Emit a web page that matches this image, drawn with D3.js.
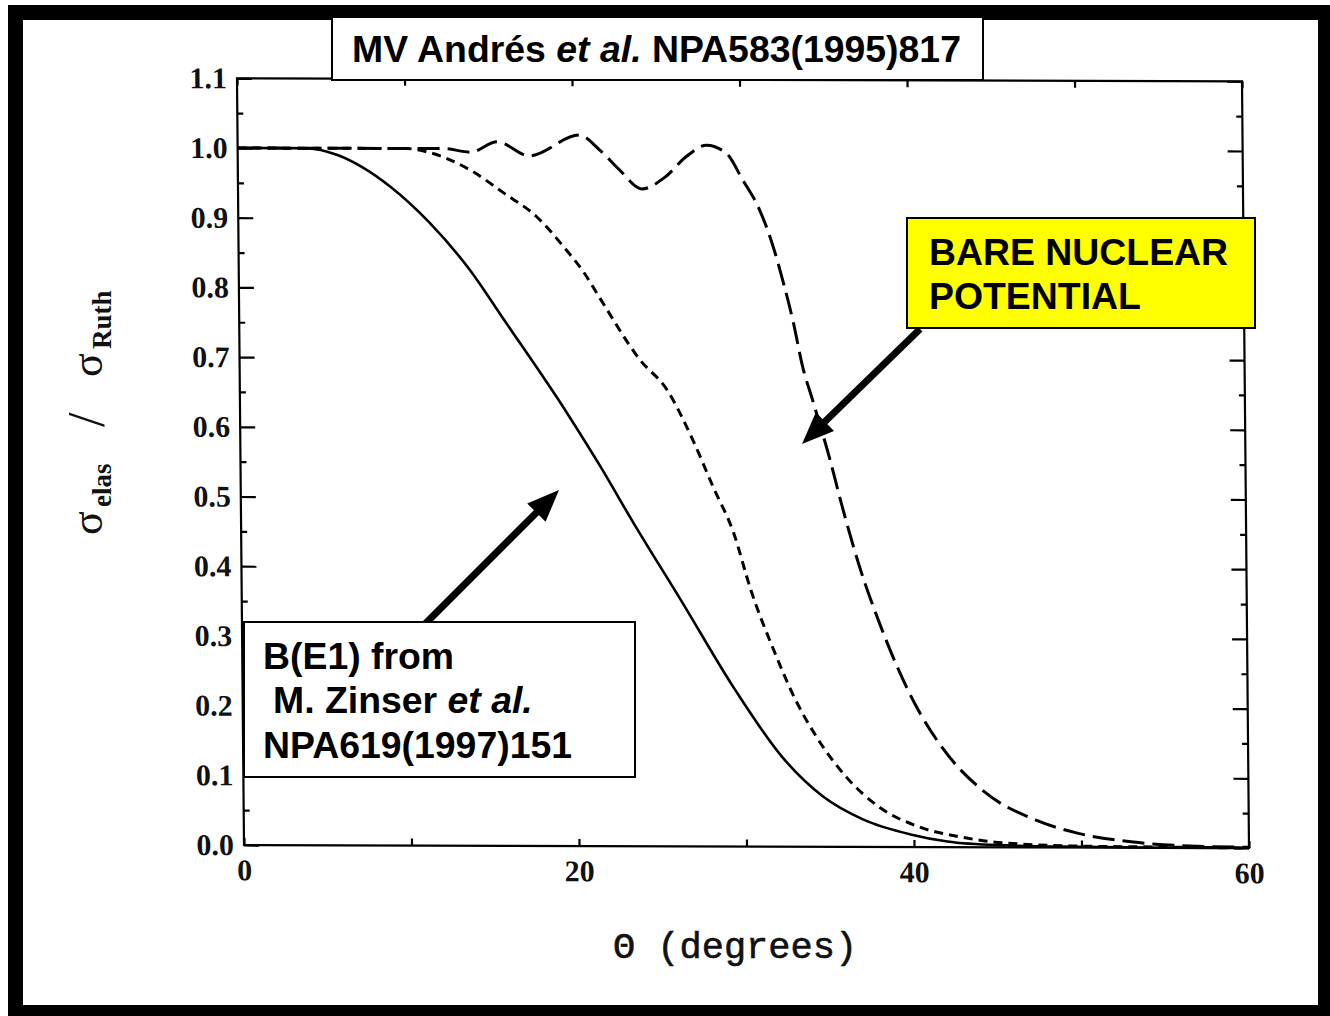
<!DOCTYPE html>
<html>
<head>
<meta charset="utf-8">
<script src="https://cdn.jsdelivr.net/npm/d3@7"></script>
<style>
  html, body { margin: 0; padding: 0; background: #fff; }
  svg { display: block; }
</style>
</head>
<body>
<svg id="chart" width="1330" height="1016"></svg>
<script>
// Elastic cross section relative to Rutherford vs. scattering angle
const thetaSolid = [0, 2, 4, 6, 7.5, 9.1, 11.4, 13.8, 15.8, 19.5, 21.5, 23.4, 26.2, 29.4, 32.2, 34.6, 37.0, 39.8, 42, 45, 50, 55, 60];
const ratioSolid = [1, 1, 1, 0.99, 0.972, 0.945, 0.894, 0.826, 0.755, 0.622, 0.544, 0.465, 0.354, 0.225, 0.128, 0.072, 0.039, 0.018, 0.008, 0.003, 0.001, 0, 0];

const thetaShort = [0, 5, 10, 11.5, 13.9, 15.9, 17.8, 19.4, 20.6, 21.6, 23.9, 25.5, 27.0, 28.2, 29.4, 30.4, 31.8, 33.0, 34.1, 36.0, 37.9, 40.3, 42.7, 45, 50, 55, 60];
const ratioShort = [1, 1, 1, 0.994, 0.969, 0.936, 0.903, 0.86, 0.823, 0.784, 0.698, 0.655, 0.584, 0.516, 0.45, 0.368, 0.278, 0.211, 0.163, 0.1, 0.058, 0.029, 0.015, 0.007, 0.002, 0.001, 0];

const thetaLong = [0, 5, 10, 12.3, 13.9, 15.5, 17.4, 20.4, 21.6, 22.8, 24.1, 25.5, 26.8, 28.0, 29.2, 30.1, 31.1, 31.8, 32.5, 33.1, 33.6, 34.2, 35.2, 35.9, 36.9, 38.0, 40.1, 41.7, 44.1, 47.3, 49.7, 53.1, 56, 60];
const ratioLong = [1, 1, 1, 1.0, 0.995, 1.01, 0.99, 1.02, 0.999, 0.97, 0.943, 0.96, 0.99, 1.006, 0.994, 0.958, 0.915, 0.87, 0.81, 0.75, 0.69, 0.64, 0.555, 0.488, 0.402, 0.325, 0.207, 0.144, 0.082, 0.039, 0.021, 0.008, 0.003, 0.001];

const yMajorTicks = [0, 0.1, 0.2, 0.3, 0.4, 0.5, 0.6, 0.7, 0.8, 0.9, 1.0, 1.1];
const yMinorTicks = [0.05, 0.15, 0.25, 0.35, 0.45, 0.55, 0.65, 0.75, 0.85, 0.95, 1.05];
const xTicks = [0, 10, 20, 30, 40, 50, 60];
const xLabelTicks = [0, 20, 40, 60];

const svg = d3.select("#chart");

// outer black frame
svg.append("rect").attr("x", 8).attr("y", 5).attr("width", 1330).attr("height", 1020).attr("fill", "#000");
svg.append("rect").attr("x", 23).attr("y", 20).attr("width", 1295).attr("height", 985).attr("fill", "#fff");

const plotLeft = 244, plotRight = 1249, plotBottom = 845, plotTop = 78.3;
const x = d3.scaleLinear().domain([0, 60]).range([plotLeft, plotRight]);
const y = d3.scaleLinear().domain([0, 1.1]).range([plotBottom, plotTop]);

// slightly skewed plotting frame
const plot = svg.append("g")
  .attr("transform", `matrix(1,0.003,0.00914,1,${-0.00914 * plotBottom},${-0.003 * plotLeft})`);

const tickFont = "'Liberation Serif', 'DejaVu Serif', serif";

// left axis: labelled major ticks + minor ticks, pointing inward
plot.append("g").attr("transform", `translate(${plotLeft},0)`)
  .call(d3.axisLeft(y).tickValues(yMajorTicks).tickSizeInner(-15).tickSizeOuter(0).tickPadding(10)
    .tickFormat(d3.format(".1f")));
plot.append("g").attr("transform", `translate(${plotLeft},0)`)
  .call(d3.axisLeft(y).tickValues(yMinorTicks).tickSizeInner(-6).tickSizeOuter(0).tickFormat(""));

// right axis
plot.append("g").attr("transform", `translate(${plotRight},0)`)
  .call(d3.axisRight(y).tickValues(yMajorTicks).tickSizeInner(-15).tickSizeOuter(0).tickFormat(""));
plot.append("g").attr("transform", `translate(${plotRight},0)`)
  .call(d3.axisRight(y).tickValues(yMinorTicks).tickSizeInner(-6).tickSizeOuter(0).tickFormat(""));

// bottom and top axes
plot.append("g").attr("transform", `translate(0,${plotBottom})`)
  .call(d3.axisBottom(x).tickValues(xTicks).tickSizeInner(-7).tickSizeOuter(0).tickPadding(14)
    .tickFormat(d => xLabelTicks.includes(d) ? d : ""));
plot.append("g").attr("transform", `translate(0,${plotTop})`)
  .call(d3.axisTop(x).tickValues(xTicks).tickSizeInner(-7).tickSizeOuter(0).tickFormat(""));

plot.selectAll(".domain").remove();
plot.selectAll(".tick line").attr("stroke", "#000").attr("stroke-width", 2.2);
plot.selectAll(".tick text")
  .attr("font-family", tickFont).attr("font-weight", "bold").attr("font-size", 30).attr("fill", "#111");

// frame
plot.append("rect")
  .attr("x", plotLeft).attr("y", plotTop).attr("width", plotRight - plotLeft).attr("height", plotBottom - plotTop)
  .attr("fill", "none").attr("stroke", "#000").attr("stroke-width", 2.2);

// curves
const line = d3.line().x(d => x(d[0])).y(d => y(d[1])).curve(d3.curveMonotoneX);
const series = [
  { t: thetaSolid, r: ratioSolid, dash: null, w: 2.6 },
  { t: thetaShort, r: ratioShort, dash: "9,6", w: 3 },
  { t: thetaLong, r: ratioLong, dash: "22,8", w: 3 }
];
series.forEach(s => {
  plot.append("path")
    .datum(d3.zip(s.t, s.r))
    .attr("d", line)
    .attr("fill", "none")
    .attr("stroke", "#000")
    .attr("stroke-width", s.w)
    .attr("stroke-dasharray", s.dash);
});

// x axis title
svg.append("text")
  .attr("x", 735).attr("y", 958)
  .attr("text-anchor", "middle")
  .attr("font-family", "'Liberation Mono', 'DejaVu Sans Mono', monospace")
  .attr("font-size", 37).attr("fill", "#111")
  .attr("stroke", "#111").attr("stroke-width", 0.6)
  .text("Θ (degrees)");

// y axis title, written bottom to top
const yTitle = svg.append("g").attr("transform", "translate(102,535) rotate(-90)")
  .attr("font-family", tickFont).attr("fill", "#111");
const yParts = [
  { s: "σ", at: 0, dy: 0, size: 44, bold: false },
  { s: "elas", at: 28, dy: 9, size: 27, bold: true },
  { s: "/", at: 108, dy: 2, size: 52, bold: false },
  { s: "σ", at: 158, dy: 0, size: 44, bold: false },
  { s: "Ruth", at: 186, dy: 9, size: 27, bold: true }
];
yParts.forEach(p => {
  yTitle.append("text")
    .attr("x", p.at).attr("y", p.dy)
    .attr("font-size", p.size)
    .attr("font-weight", p.bold ? "bold" : "normal")
    .text(p.s);
});

// annotation arrows
function arrow(sx, sy, tx, ty) {
  const dx = tx - sx, dy = ty - sy, len = Math.hypot(dx, dy);
  const ux = dx / len, uy = dy / len, nx = -uy, ny = ux;
  const hl = 32, hw = 13, bx = tx - ux * hl, by = ty - uy * hl;
  svg.append("line").attr("x1", sx).attr("y1", sy).attr("x2", bx + ux * 2).attr("y2", by + uy * 2)
    .attr("stroke", "#000").attr("stroke-width", 7);
  svg.append("path")
    .attr("d", `M${tx},${ty}L${bx + nx * hw},${by + ny * hw}L${bx - nx * hw},${by - ny * hw}Z`)
    .attr("fill", "#000");
}
arrow(920, 329, 802, 444);
arrow(425, 624, 559, 490);

// annotation boxes
const labelFont = "'Liberation Sans', Arial, sans-serif";
function box(x0, y0, w, h, fill) {
  svg.append("rect").attr("x", x0).attr("y", y0).attr("width", w).attr("height", h)
    .attr("fill", fill).attr("stroke", "#000").attr("stroke-width", 2);
}
function label(x0, y0, parts) {
  const t = svg.append("text").attr("x", x0).attr("y", y0)
    .attr("font-family", labelFont).attr("font-weight", "bold").attr("font-size", 37.4).attr("fill", "#000");
  parts.forEach(p => t.append("tspan").attr("font-style", p.i ? "italic" : null).text(p.s));
}

box(332, 17, 651, 63, "#fff");
label(352, 62, [{ s: "MV Andrés " }, { s: "et al.", i: true }, { s: " NPA583(1995)817" }]);

box(907, 218, 348, 110, "#ffff00");
label(929, 265, [{ s: "BARE NUCLEAR" }]);
label(929, 309, [{ s: "POTENTIAL" }]);

box(244, 622, 391, 155, "#fff");
label(263, 669, [{ s: "B(E1) from" }]);
label(273, 713, [{ s: "M. Zinser " }, { s: "et al.", i: true }]);
label(263, 758, [{ s: "NPA619(1997)151" }]);
</script>
</body>
</html>
